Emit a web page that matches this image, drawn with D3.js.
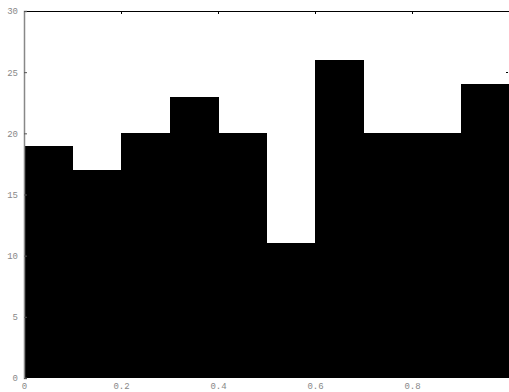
<!DOCTYPE html>
<html>
<head>
<meta charset="utf-8">
<script src="https://cdn.jsdelivr.net/npm/d3@7"></script>
<style>
  body { margin: 0; background: #fff; }
  svg { display: block; }
  .tick text { font-family: "Liberation Mono", "DejaVu Sans Mono", monospace; font-size: 9px; fill: #888; }
</style>
</head>
<body>
<svg width="509" height="392"></svg>
<script>
// histogram bins (0..1, step 0.1) and counts
const binStarts = [0, 0.1, 0.2, 0.3, 0.4, 0.5, 0.6, 0.7, 0.8, 0.9];
const counts = [19, 17, 20, 23, 20, 11, 26, 20, 20, 24];
const xTicks = [0, 0.2, 0.4, 0.6, 0.8];
const yTicks = [0, 5, 10, 15, 20, 25, 30];
const binWidth = 0.1;

const svg = d3.select('svg');
const width = +svg.attr('width');
const height = +svg.attr('height');
const m = { left: 24, right: 0, top: 11, bottom: 14 };
const innerW = width - m.left - m.right;
const innerH = height - m.top - m.bottom;

const x = d3.scaleLinear().domain([0, 1]).range([0, innerW]);
const y = d3.scaleLinear().domain([0, 30]).range([innerH, 0]);

const g = svg.append('g').attr('transform', `translate(${m.left},${m.top})`);

// ---- bars
g.selectAll('rect.bar')
  .data(binStarts)
  .enter()
  .append('rect')
  .attr('class', 'bar')
  .attr('x', d => x(d))
  .attr('y', (d, i) => y(counts[i]))
  .attr('width', x(binWidth) - x(0) + 0.6)
  .attr('height', (d, i) => innerH - y(counts[i]))
  .attr('fill', '#000')
  .attr('shape-rendering', 'crispEdges');

// ---- top frame line
g.append('line')
  .attr('x1', 0).attr('x2', innerW)
  .attr('y1', 0.5).attr('y2', 0.5)
  .attr('stroke', '#000');

// ---- top ticks (pointing down)
g.selectAll('line.ttick')
  .data(xTicks.slice(1))
  .enter()
  .append('line')
  .attr('x1', d => Math.round(x(d)) + 0.5).attr('x2', d => Math.round(x(d)) + 0.5)
  .attr('y1', 0).attr('y2', 3)
  .attr('stroke', '#000');

// ---- right ticks (pointing left)
g.selectAll('line.rtick')
  .data(yTicks.slice(1, -1))
  .enter()
  .append('line')
  .attr('x1', innerW - 1).attr('x2', innerW - 3)
  .attr('y1', d => Math.round(y(d)) + 0.5).attr('y2', d => Math.round(y(d)) + 0.5)
  .attr('stroke', '#000');

// ---- left axis
const eixoY = d3.axisRight(y).tickValues(yTicks).tickSize(3);
const gy = g.append('g').call(eixoY);
gy.select('.domain').attr('stroke', '#888').attr('stroke-width', 1.5);
gy.selectAll('.tick line').attr('stroke', '#555');
gy.selectAll('.tick text').attr('text-anchor', 'end').attr('x', -6);

// ---- bottom axis labels
const eixoX = d3.axisBottom(x).tickValues(xTicks).tickSize(0).tickPadding(5)
  .tickFormat(d => d === 0 ? '0' : d3.format('.1f')(d));
const gx = g.append('g').attr('transform', `translate(0,${innerH})`).call(eixoX);
gx.select('.domain').remove();
</script>
</body>
</html>
